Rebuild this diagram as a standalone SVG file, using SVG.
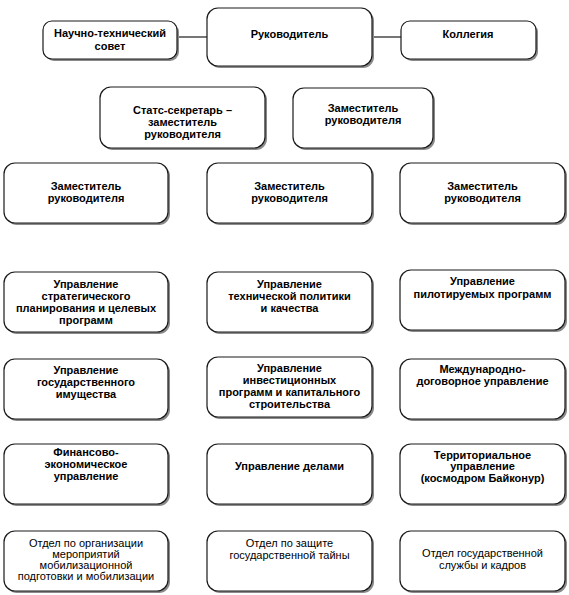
<svg xmlns="http://www.w3.org/2000/svg" width="569" height="595" viewBox="0 0 569 595">
<defs>
<style>
.b{fill:#fff;stroke:#1a1a1a;stroke-width:1.2}
.s{fill:#8a8a8a;stroke:none}
.t{font-family:"Liberation Sans",Arial,sans-serif;font-size:11px;font-weight:bold;fill:#000;text-anchor:middle}
.n{font-family:"Liberation Sans",Arial,sans-serif;font-size:11px;fill:#000;text-anchor:middle}
.c{stroke:#1a1a1a;stroke-width:1.2;fill:none}
</style>
</defs>
<rect width="569" height="595" fill="#fff"/>
<g id="connectors">
<line class="c" x1="177" y1="37" x2="207" y2="37"/>
<line class="c" x1="372" y1="37" x2="401" y2="37"/>
</g>
<g id="nts">
<rect class="s" x="45" y="23" width="134" height="38" rx="9"/>
<rect class="b" x="43" y="21" width="134" height="38" rx="9"/>
<text class="t" x="110" y="37">Научно-технический</text>
<text class="t" x="110" y="50">совет</text>
</g>
<g id="head">
<rect class="s" x="209" y="10" width="165" height="58" rx="11"/>
<rect class="b" x="207" y="8" width="165" height="58" rx="11"/>
<text class="t" x="289.5" y="38">Руководитель</text>
</g>
<g id="board">
<rect class="s" x="403" y="23" width="135" height="38" rx="9"/>
<rect class="b" x="401" y="21" width="135" height="38" rx="9"/>
<text class="t" x="468" y="38">Коллегия</text>
</g>
<g id="stats">
<rect class="s" x="102" y="89" width="165" height="61" rx="11"/>
<rect class="b" x="100" y="87" width="165" height="61" rx="11"/>
<text class="t" x="182.5" y="114">Статс-секретарь –</text>
<text class="t" x="182.5" y="126">заместитель</text>
<text class="t" x="182.5" y="138">руководителя</text>
</g>
<g id="dep0">
<rect class="s" x="295" y="90" width="140" height="60" rx="11"/>
<rect class="b" x="293" y="88" width="140" height="60" rx="11"/>
<text class="t" x="363" y="112">Заместитель</text>
<text class="t" x="363" y="124">руководителя</text>
</g>
<g id="dep1">
<rect class="s" x="6" y="165" width="164" height="60" rx="11"/>
<rect class="b" x="4" y="163" width="164" height="60" rx="11"/>
<text class="t" x="86" y="190">Заместитель</text>
<text class="t" x="86" y="202">руководителя</text>
</g>
<g id="dep2">
<rect class="s" x="209" y="165" width="165" height="60" rx="11"/>
<rect class="b" x="207" y="163" width="165" height="60" rx="11"/>
<text class="t" x="289.5" y="190">Заместитель</text>
<text class="t" x="289.5" y="202">руководителя</text>
</g>
<g id="dep3">
<rect class="s" x="402" y="165" width="165" height="60" rx="11"/>
<rect class="b" x="400" y="163" width="165" height="60" rx="11"/>
<text class="t" x="482.5" y="190">Заместитель</text>
<text class="t" x="482.5" y="202">руководителя</text>
</g>
<g id="u1">
<rect class="s" x="6" y="274" width="164" height="60" rx="11"/>
<rect class="b" x="4" y="272" width="164" height="60" rx="11"/>
<text class="t" x="86" y="288">Управление</text>
<text class="t" x="86" y="300">стратегического</text>
<text class="t" x="86" y="312">планирования и целевых</text>
<text class="t" x="86" y="324">программ</text>
</g>
<g id="u2">
<rect class="s" x="209" y="274" width="165" height="60" rx="11"/>
<rect class="b" x="207" y="272" width="165" height="60" rx="11"/>
<text class="t" x="289.5" y="288">Управление</text>
<text class="t" x="289.5" y="300">технической политики</text>
<text class="t" x="289.5" y="312">и качества</text>
</g>
<g id="u3">
<rect class="s" x="402" y="272" width="165" height="60" rx="11"/>
<rect class="b" x="400" y="270" width="165" height="60" rx="11"/>
<text class="t" x="482.5" y="285">Управление</text>
<text class="t" x="482.5" y="298">пилотируемых программ</text>
</g>
<g id="u4">
<rect class="s" x="6" y="361" width="164" height="60" rx="11"/>
<rect class="b" x="4" y="359" width="164" height="60" rx="11"/>
<text class="t" x="86" y="374">Управление</text>
<text class="t" x="86" y="386">государственного</text>
<text class="t" x="86" y="398">имущества</text>
</g>
<g id="u5">
<rect class="s" x="209" y="359" width="165" height="60" rx="11"/>
<rect class="b" x="207" y="357" width="165" height="60" rx="11"/>
<text class="t" x="289.5" y="372">Управление</text>
<text class="t" x="289.5" y="384">инвестиционных</text>
<text class="t" x="289.5" y="396">программ и капитального</text>
<text class="t" x="289.5" y="408">строительства</text>
</g>
<g id="u6">
<rect class="s" x="402" y="361" width="165" height="60" rx="11"/>
<rect class="b" x="400" y="359" width="165" height="60" rx="11"/>
<text class="t" x="482.5" y="373">Международно-</text>
<text class="t" x="482.5" y="385">договорное управление</text>
</g>
<g id="u7">
<rect class="s" x="6" y="446" width="164" height="60" rx="11"/>
<rect class="b" x="4" y="444" width="164" height="60" rx="11"/>
<text class="t" x="86" y="456">Финансово-</text>
<text class="t" x="86" y="468">экономическое</text>
<text class="t" x="86" y="480">управление</text>
</g>
<g id="u8">
<rect class="s" x="209" y="446" width="165" height="60" rx="11"/>
<rect class="b" x="207" y="444" width="165" height="60" rx="11"/>
<text class="t" x="289.5" y="470">Управление делами</text>
</g>
<g id="u9">
<rect class="s" x="402" y="446" width="165" height="60" rx="11"/>
<rect class="b" x="400" y="444" width="165" height="60" rx="11"/>
<text class="t" x="482.5" y="459">Территориальное</text>
<text class="t" x="482.5" y="470">управление</text>
<text class="t" x="482.5" y="482">(космодром Байконур)</text>
</g>
<g id="o1">
<rect class="s" x="6" y="533" width="164" height="60" rx="11"/>
<rect class="b" x="4" y="531" width="164" height="60" rx="11"/>
<text class="n" x="86" y="547">Отдел по организации</text>
<text class="n" x="86" y="558">мероприятий</text>
<text class="n" x="86" y="569">мобилизационной</text>
<text class="n" x="86" y="580">подготовки и мобилизации</text>
</g>
<g id="o2">
<rect class="s" x="209" y="533" width="165" height="60" rx="11"/>
<rect class="b" x="207" y="531" width="165" height="60" rx="11"/>
<text class="n" x="289.5" y="547">Отдел по защите</text>
<text class="n" x="289.5" y="559">государственной тайны</text>
</g>
<g id="o3">
<rect class="s" x="402" y="533" width="165" height="60" rx="11"/>
<rect class="b" x="400" y="531" width="165" height="60" rx="11"/>
<text class="n" x="482.5" y="557">Отдел государственной</text>
<text class="n" x="482.5" y="569">службы и кадров</text>
</g>
</svg>
